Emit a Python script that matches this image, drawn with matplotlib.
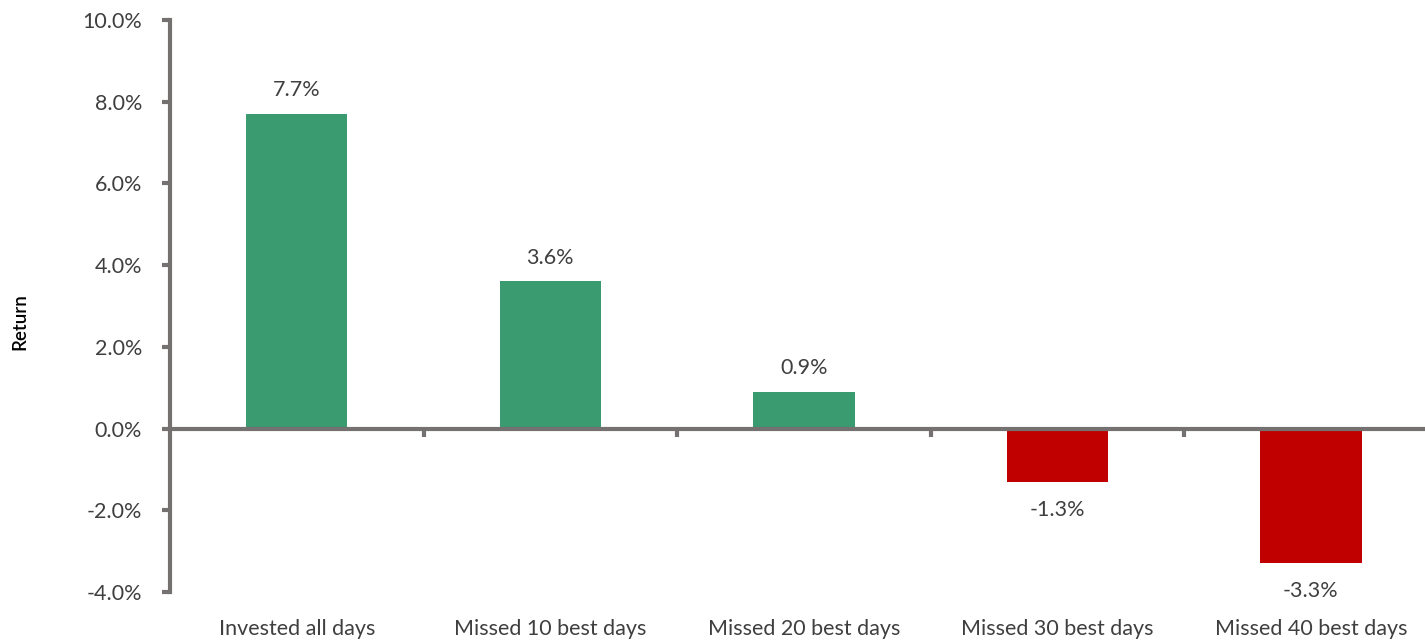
import matplotlib.pyplot as plt
import numpy as np

categories = [
    "Invested all days",
    "Missed 10 best days",
    "Missed 20 best days",
    "Missed 30 best days",
    "Missed 40 best days",
]
returns = [7.7, 3.6, 0.9, -1.3, -3.3]
value_labels = ["7.7%", "3.6%", "0.9%", "-1.3%", "-3.3%"]
yticks = [-4, -2, 0, 2, 4, 6, 8, 10]

green = "#3A9A70"
red = "#C00000"
axis_grey = "#767171"
text_col = "#3F3F3F"

plt.rcParams["font.family"] = ["Lato", "DejaVu Sans"]

fig = plt.figure(figsize=(14.25, 6.43), dpi=100)
ax = fig.add_axes([170 / 1425, 1 - 592 / 643, 1 - 170 / 1425, (592 - 20) / 643])

x = np.arange(len(categories))
colors = [green if v >= 0 else red for v in returns]
ax.bar(x, returns, width=0.4, color=colors, zorder=2)

ax.set_xlim(-0.5, 4.45)
ax.set_ylim(-4, 10)

ax.spines["top"].set_visible(False)
ax.spines["right"].set_visible(False)
ax.spines["bottom"].set_position(("data", 0))
for s in ["left", "bottom"]:
    ax.spines[s].set_color(axis_grey)
    ax.spines[s].set_linewidth(3)
ax.spines["bottom"].set_zorder(3)

ax.set_yticks(yticks)
ax.set_yticklabels([f"{t:.1f}%" for t in yticks])
ax.tick_params(axis="y", direction="out", length=6, width=3, color=axis_grey,
               labelsize=15.5, labelcolor=text_col, pad=14)

# category boundaries as minor ticks on the zero line
ax.set_xticks(x)
ax.set_xticklabels([])
ax.tick_params(axis="x", which="major", length=0)
ax.set_xticks(x[1:] - 0.5, minor=True)
ax.tick_params(axis="x", which="minor", direction="out", length=6, width=3,
               color=axis_grey)

trans = ax.get_xaxis_transform()
for xi, name in zip(x, categories):
    ax.text(xi, -0.048, name, transform=trans, ha="center", va="top",
            fontsize=15.5, color=text_col)

for xi, v, lab in zip(x, returns, value_labels):
    if v >= 0:
        ax.annotate(lab, (xi, v), xytext=(0, 10), textcoords="offset points",
                    ha="center", va="bottom", fontsize=15.5, color=text_col)
    else:
        ax.annotate(lab, (xi, v), xytext=(0, -13), textcoords="offset points",
                    ha="center", va="top", fontsize=15.5, color=text_col)

fig.text(20 / 1425, 1 - 322 / 643, "Return", rotation=90, ha="center",
         va="center", fontsize=13.5, fontweight="semibold", color="black")

fig.savefig("out.png", dpi=100)
